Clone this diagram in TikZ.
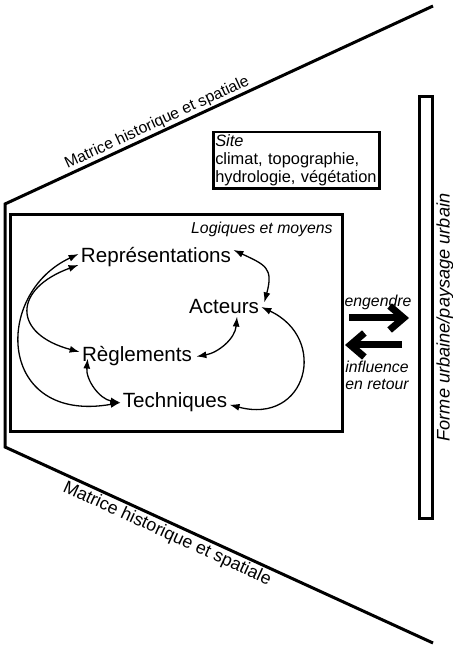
\documentclass[tikz,border=0pt]{standalone}
\usepackage{fontspec}
\setmainfont{Liberation Sans}
\usetikzlibrary{arrows.meta}
\tikzset{
  concept/.style={inner sep=1pt, anchor=base, font=\fontsize{10.3}{12}\selectfont},
  link/.style={<->, >={Latex[length=5pt,width=3.5pt]}, line width=0.65pt},
  frameline/.style={line width=1.5pt},
  bigarrow/.style={-{Straight Barb[length=7pt,width=12pt]}, line width=3.5pt},
  note/.style={inner sep=0pt, font=\fontsize{7.9}{8.5}\selectfont\itshape},
  sitebox/.style={draw, line width=1.25pt, text width=81pt, inner xsep=1pt, inner ysep=1pt,
    align=left, font=\fontsize{8.2}{9.2}\selectfont}
}

\begin{document}
\begin{tikzpicture} [x=0.5pt,y=0.5pt]
\useasboundingbox (0,0) rectangle (453,648);

% the frame
\coordinate (mtop) at (433,642);
\coordinate (mtl) at (5,444);
\coordinate (mbl) at (5,201);
\coordinate (mbot) at (433,5);
\draw 
[frameline] 
(mtop)--(mtl)--(mbl)--(mbot);
\path (mtl)--node [sloped, above, pos=0.365, inner sep=1pt, font=\fontsize{7.9}{9}\selectfont] (mtext1) {Matrice historique et spatiale} (mtop);
\path (mbl)--node [sloped, below, pos=0.39, inner sep=1.5pt, font=\fontsize{8.9}{10}\selectfont] (mtext2) {Matrice historique et spatiale} (mbot);

% the boxes
\draw [frameline] (10,216) rectangle (342,433);
\node [note, anchor=east] (logiques) at (333,419) {Logiques et moyens};

\node [sitebox, anchor=north west] (site) at (212,517) {\textit{Site}\\climat, topographie,\\hydrologie, végétation};

\draw [frameline] (419.5,129) rectangle (432.5,551);
\node [rotate=90, inner sep=0pt, font=\fontsize{9.1}{10}\selectfont\itshape] (forme) at (445,330.5) {Forme urbaine/paysage urbain};

% the concepts
\node [concept] (repr) at (156,385) {Représentations};
\node [concept] (act) at (224,334) {Acteurs};
\node [concept] (regl) at (137,286) {Règlements};
\node [concept] (tech) at (175,240) {Techniques};

\draw [link] ([yshift=3.8pt]repr.east) to [out=-25, in=75, looseness=1.5] ([xshift=1.5pt,yshift=2.3pt]act.east);
\draw [link] ([xshift=6.5pt]act.south) to [out=-95, in=10] ([xshift=1pt]regl.east);
\draw [link] (act.east) .. controls +(-25:75) and +(-15:80) .. ([yshift=-1pt]tech.east);
\draw [link] ([xshift=4pt,yshift=-1pt]regl.west) to [out=-95, in=170] (tech.west);
\draw [link] ([yshift=-3.7pt]repr.west) .. controls +(200:70) and +(165:70) .. ([yshift=2.3pt]regl.west);
\draw [link] ([yshift=1.8pt]repr.west) .. controls +(205:95) and +(190:125) .. (tech.west);

% the exchange
\coordinate (eng1) at (349,330);
\coordinate (eng2) at (409,330);
\coordinate (inf1) at (402,303);
\coordinate (inf2) at (345,303);
\draw [bigarrow] (eng1)--(eng2);
\draw [bigarrow] (inf1)--(inf2);
\node [note] (engendre) at (378,346) {engendre};
\node [note, align=left, anchor=north west] (influence) at (345,287.5) {influence\\en retour};

%\draw [help lines] (0,0) grid [step=50] (453,648);
\end{tikzpicture}
\end{document}
